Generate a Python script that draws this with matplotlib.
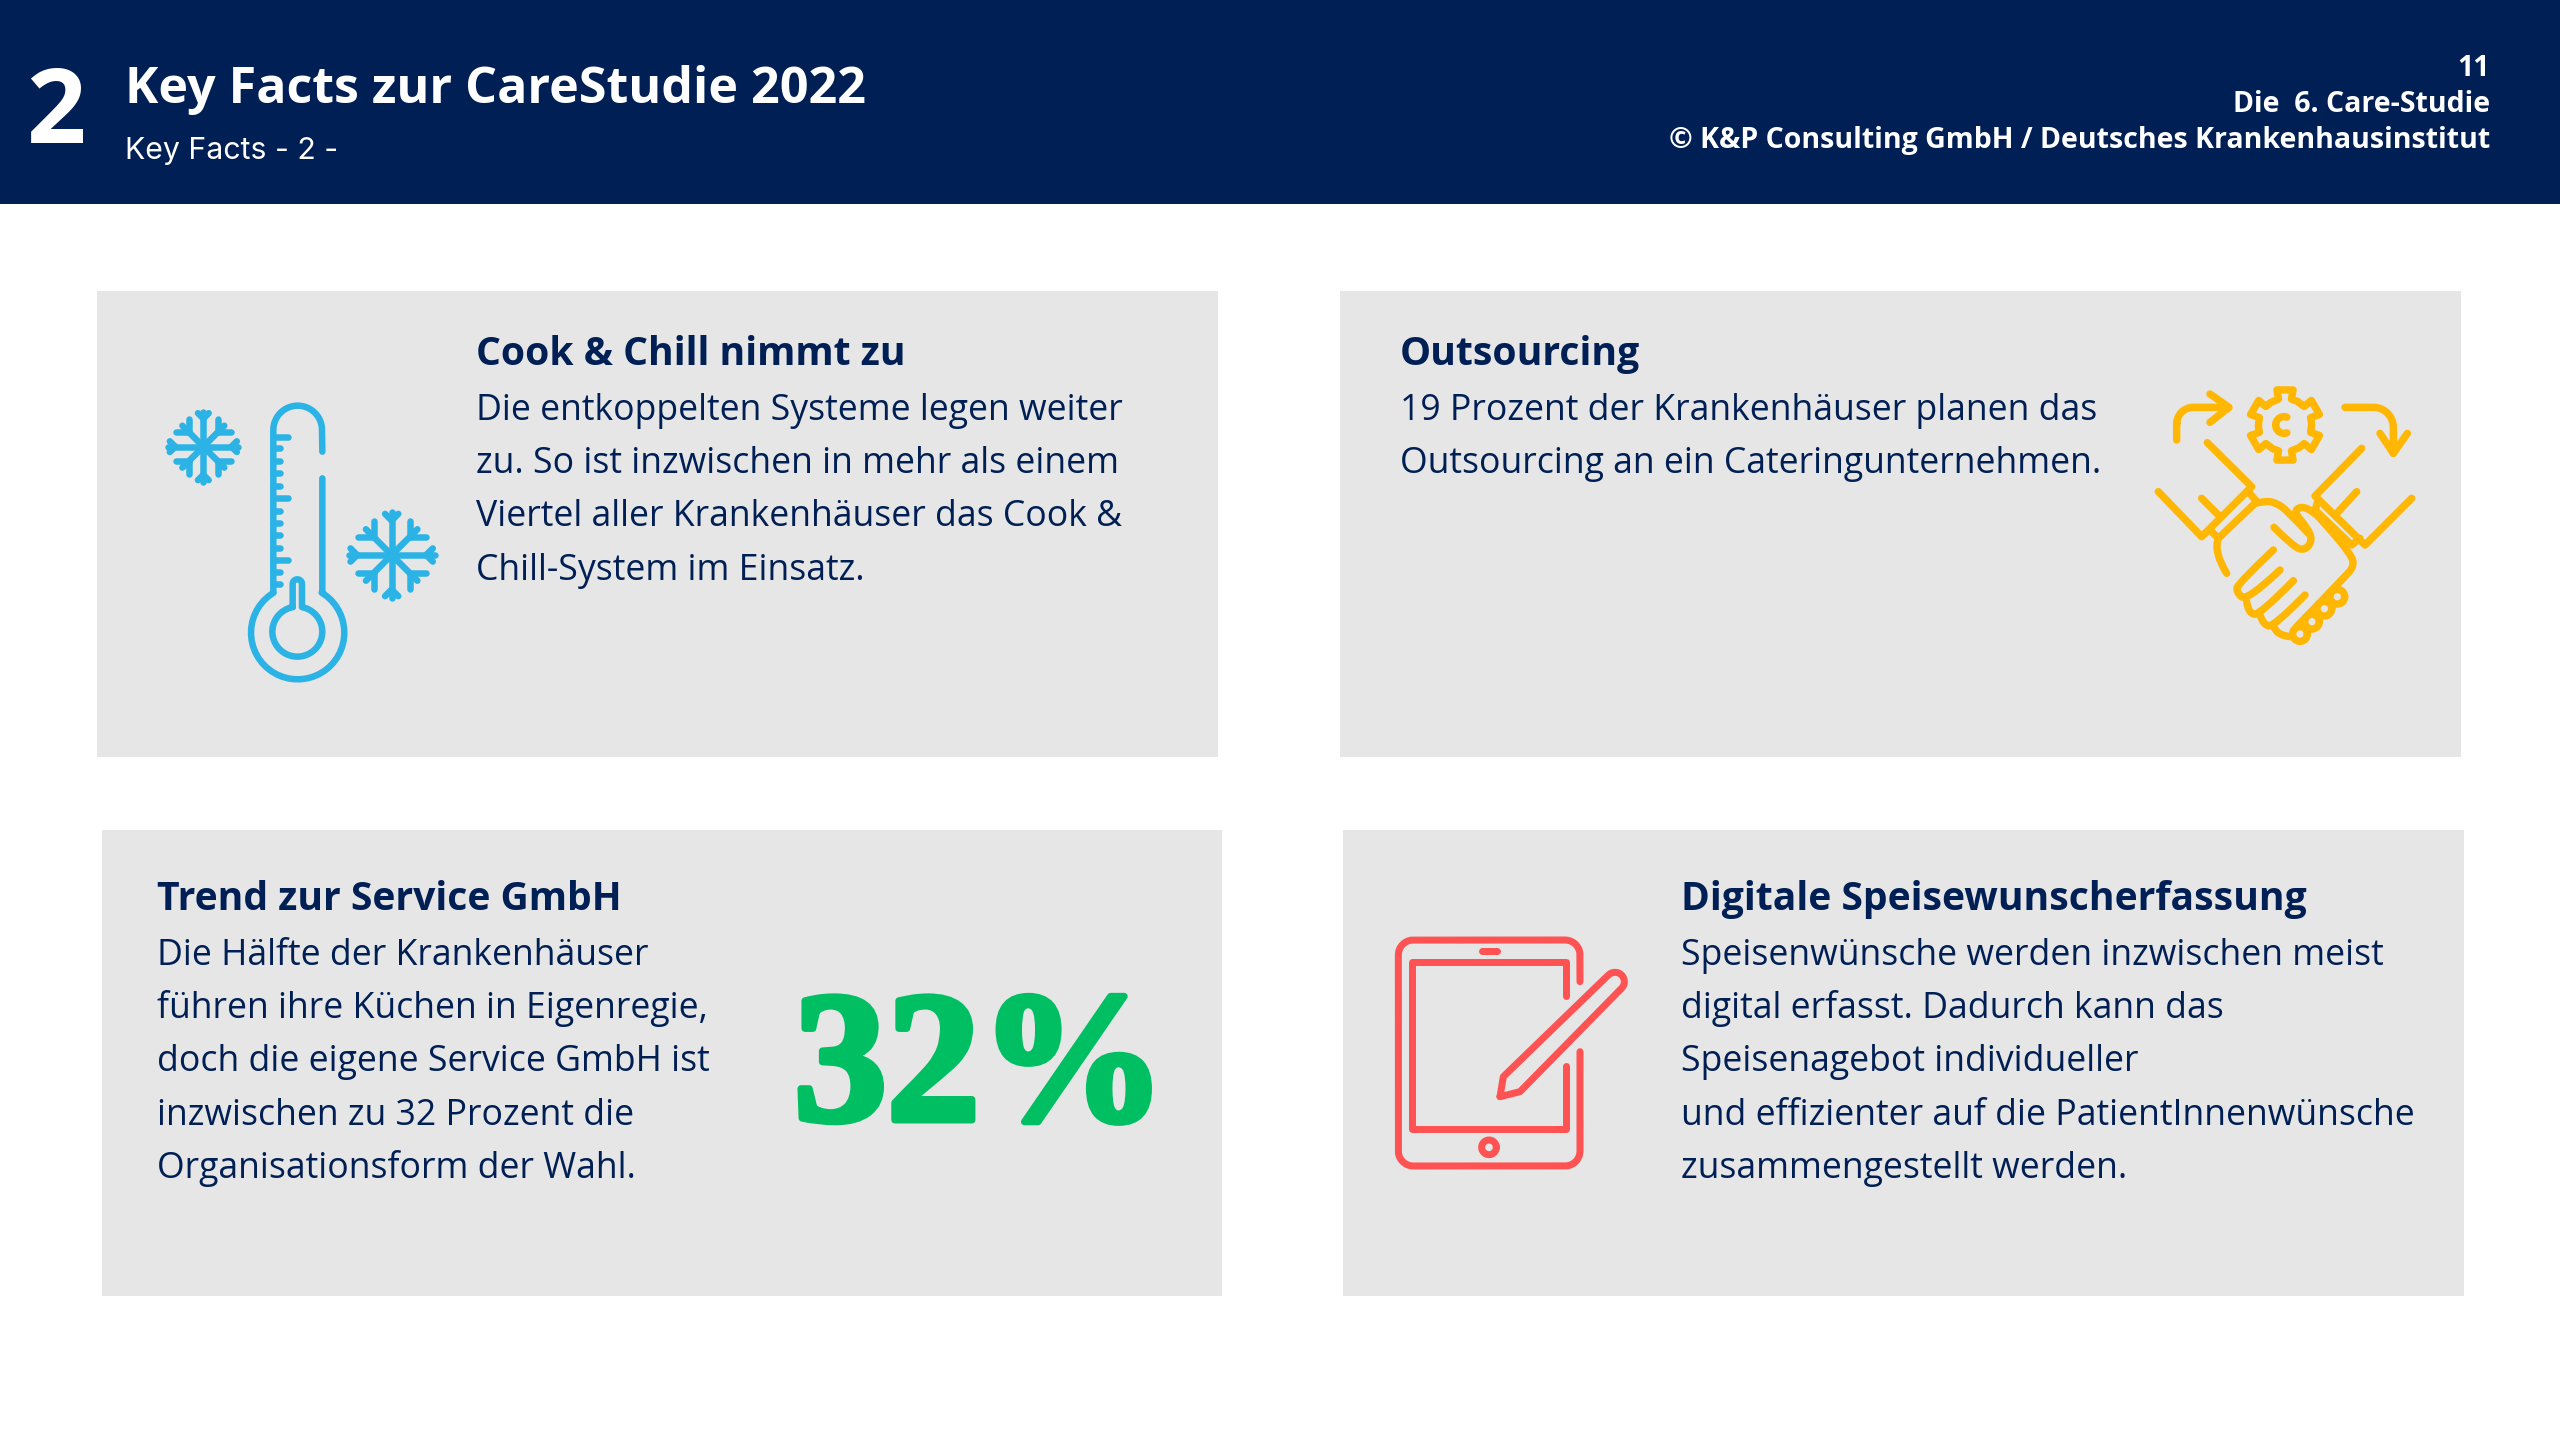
import numpy as np
import matplotlib
matplotlib.use("Agg")
import matplotlib.pyplot as plt
from matplotlib.patches import Rectangle, PathPatch
from matplotlib.path import Path
import matplotlib.patheffects as pe

NAVY = "#001F54"
CARD = "#E6E6E6"
BLUE = "#2BB3E6"
YELLOW = "#FFB703"
RED = "#FF5252"
GREEN = "#00BF63"

SECTION = "2"
TITLE = "Key Facts zur CareStudie 2022"
SUBTITLE = "Key Facts - 2 -"
HEADER_RIGHT = ["11", "Die  6. Care-Studie", "© K&P Consulting GmbH / Deutsches Krankenhausinstitut"]

HEAD_1 = "Cook & Chill nimmt zu"
BODY_1 = ["Die entkoppelten Systeme legen weiter", "zu. So ist inzwischen in mehr als einem",
          "Viertel aller Krankenhäuser das Cook &", "Chill-System im Einsatz."]
HEAD_2 = "Outsourcing"
BODY_2 = ["19 Prozent der Krankenhäuser planen das", "Outsourcing an ein Cateringunternehmen."]
HEAD_3 = "Trend zur Service GmbH"
BODY_3 = ["Die Hälfte der Krankenhäuser", "führen ihre Küchen in Eigenregie,", "doch die eigene Service GmbH ist",
          "inzwischen zu 32 Prozent die", "Organisationsform der Wahl."]
HEAD_4 = "Digitale Speisewunscherfassung"
BODY_4 = ["Speisenwünsche werden inzwischen meist", "digital erfasst. Dadurch kann das",
          "Speisenagebot individueller", "und effizienter auf die PatientInnenwünsche",
          "zusammengestellt werden."]
BIG_VALUE = "32%"

PX = 0.72
fig = plt.figure(figsize=(25.6, 14.4), dpi=100, facecolor="white")
ax = fig.add_axes([0, 0, 1, 1])
ax.set_xlim(0, 2560)
ax.set_ylim(1440, 0)
ax.axis("off")

ax.add_patch(Rectangle((0, 0), 2560, 204, fc=NAVY, ec="none"))
for x0, y0, x1, y1 in [(97, 291, 1218, 757), (1340, 291, 2461, 757), (102, 830, 1222, 1296), (1343, 830, 2464, 1296)]:
    ax.add_patch(Rectangle((x0, y0), x1 - x0, y1 - y0, fc=CARD, ec="none"))

OS = "Open Sans"
ax.text(26, 143, SECTION, color="white", fontsize=104 * PX, family=OS, weight="bold", va="baseline")
ax.text(125, 103, TITLE, color="white", fontsize=50.2 * PX, family=OS, weight="bold", va="baseline")
ax.text(125, 159, SUBTITLE, color="white", fontsize=30.3 * PX, family="Inter", weight="normal", va="baseline")
for y, s in zip([76, 112, 148], HEADER_RIGHT):
    ax.text(2490, y, s, color="white", fontsize=28.5 * PX, family=OS, weight="bold", ha="right", va="baseline")

def card_text(x, y_head, head, body):
    ax.text(x, y_head + 1, head, color=NAVY, fontsize=39.1 * PX, family=OS, weight="bold", va="baseline")
    for i, s in enumerate(body):
        ax.text(x, y_head + 56 + i * 53.2, s, color=NAVY, fontsize=35.6 * PX, family=OS, va="baseline")

card_text(476, 364, HEAD_1, BODY_1)
card_text(1400, 364, HEAD_2, BODY_2)
card_text(157, 909, HEAD_3, BODY_3)
card_text(1681, 909, HEAD_4, BODY_4)

ax.text(980, 1120, BIG_VALUE, color=GREEN, fontsize=186 * PX, family="Liberation Serif", weight="bold",
        ha="center", va="baseline", path_effects=[pe.withStroke(linewidth=5, foreground=GREEN)])

def stroke(verts, ox, oy, color, lw, smooth=False, closed=False):
    v = np.asarray(verts, float) / 3 + [ox, oy]
    if smooth and len(v) > 2:
        codes = [Path.MOVETO]; out = [v[0]]
        for i in range(1, len(v) - 1):
            mid = (v[i] + v[i + 1]) / 2 if i < len(v) - 2 else v[i + 1]
            out += [v[i], mid]; codes += [Path.CURVE3, Path.CURVE3]
        path = Path(out, codes)
    else:
        codes = [Path.MOVETO] + [Path.LINETO] * (len(v) - 1)
        path = Path(v, codes)
        if closed:
            path = Path(np.vstack([v, v[0]]), codes + [Path.CLOSEPOLY])
    ax.add_patch(PathPatch(path, fc="none", ec=color, lw=lw * PX, capstyle="round", joinstyle="round"))

def arc(cx, cy, r, a0, a1, n=40):
    t = np.radians(np.linspace(a0, a1, n))
    return list(zip(cx + r * np.cos(t), cy + r * np.sin(t)))

# thermometer
O = (140, 380); W = 6.5
def T(pts, **k): stroke(pts, *O, BLUE, W, **k)
T([(400, 632), (400, 150)] + arc(473, 150, 73, 180, 360) + [(547, 215)])
T([(547, 255), (547, 255.5)])
T([(547, 295), (547, 635)] + arc(473, 758, 140, -59, 239))
T([(458, 681), (458, 612)] + arc(472, 612, 14, 180, 360) + [(486, 681)] + arc(472, 755, 75, -79, 259))
for y in (170, 355, 540):
    T([(400, y), (445, y)])
for y in (205, 243, 280, 317, 392, 430, 465, 503, 575, 612):
    T([(400, y), (420, y)])

def flake(cx, cy, r):
    c = np.array([cx, cy], float)
    for deg in range(0, 360, 45):
        a = np.radians(deg)
        d = np.array([np.cos(a), np.sin(a)])
        diagonal = deg % 90 != 0
        T([c, c + d * r * (0.78 if diagonal else 0.92)])
        for s in (-1, 1):
            b = np.array([np.cos(a + s * np.pi / 4), np.sin(a + s * np.pi / 4)])
            m = c + d * r * (0.55 if diagonal else 0.74)
            T([m, m + b * r * (0.34 if diagonal else 0.2)])
flake(190, 200, 114)
flake(755, 525, 140)

# handshake
O2 = (2130, 370); W2 = 7.4
def H(pts, **k): stroke(pts, *O2, YELLOW, W2, **k)
H([(140, 210), (140, 160)] + arc(190, 162, 50, 180, 270) + [(295, 112)])
H([(240, 72), (297, 112), (240, 157)])
H([(645, 112), (730, 112)] + arc(730, 172, 60, -90, 0) + [(790, 250)])
H([(750, 190), (790, 250), (832, 190)])
gear = []
for k in range(6):
    c = -90 + 60 * k
    gear += [(465 + 80 * np.cos(np.radians(a)), 165 + 80 * np.sin(np.radians(a))) for a in (c - 32, c - 14)]
    gear += [(465 + 108 * np.cos(np.radians(a)), 165 + 108 * np.sin(np.radians(a))) for a in (c - 13, c + 13)]
    gear += [(465 + 80 * np.cos(np.radians(c + 14)), 165 + 80 * np.sin(np.radians(c + 14)))]
H(gear, closed=True)
H(arc(462, 165, 25, 70, 290))
H([(232, 218), (365, 350), (215, 500), (85, 365)])
H([(215, 385), (270, 440)])
H([(355, 365), (380, 395), (265, 505), (240, 480)])
H([(695, 235), (555, 378), (705, 525), (845, 385)])
H([(680, 365), (625, 425)])
H([(565, 390), (555, 420), (665, 525), (690, 505)])
H([(375, 400), (410, 392), (440, 400), (470, 420), (535, 490)], smooth=True)
H([(432, 472), (490, 530), (525, 542), (548, 510), (530, 470), (490, 425), (515, 408), (550, 425), (580, 455), (665, 555),
   (672, 590), (640, 625), (500, 770)], smooth=True)
H([(265, 505), (250, 545), (290, 610)], smooth=True)
H([(430, 540), (325, 640), (318, 665), (350, 695), (450, 600)], smooth=True)
H([(350, 695), (355, 730), (390, 735), (490, 632)], smooth=True)
H([(390, 735), (400, 765), (432, 770), (525, 675)], smooth=True)
H([(432, 770), (440, 798), (485, 800)], smooth=True)
for x, y in [(510, 792), (546, 755), (583, 716), (622, 680)]:
    H(arc(x, y, 22, 0, 360))

# tablet
O3 = (1380, 920); W3 = 7
def P(pts, **k): stroke(pts, *O3, RED, W3, **k)
P([(600, 185), (600, 105)] + arc(555, 105, 45, 0, -90) + [(100, 60)] + arc(100, 105, 45, -90, -180) + [(55, 693)]
  + arc(100, 693, 45, 180, 90) + [(555, 738)] + arc(555, 693, 45, 90, 0) + [(600, 395)])
P([(557, 228), (557, 125), (97, 125), (97, 628), (557, 628), (557, 438)])
P([(305, 92), (350, 92)])
P(arc(327, 682, 22, 0, 360))
P([(360, 530), (370, 470), (680, 170)] + arc(705, 185, 28, -125, 45) + [(420, 515), (360, 530)])

fig.savefig("out.png", dpi=100, facecolor="white")
